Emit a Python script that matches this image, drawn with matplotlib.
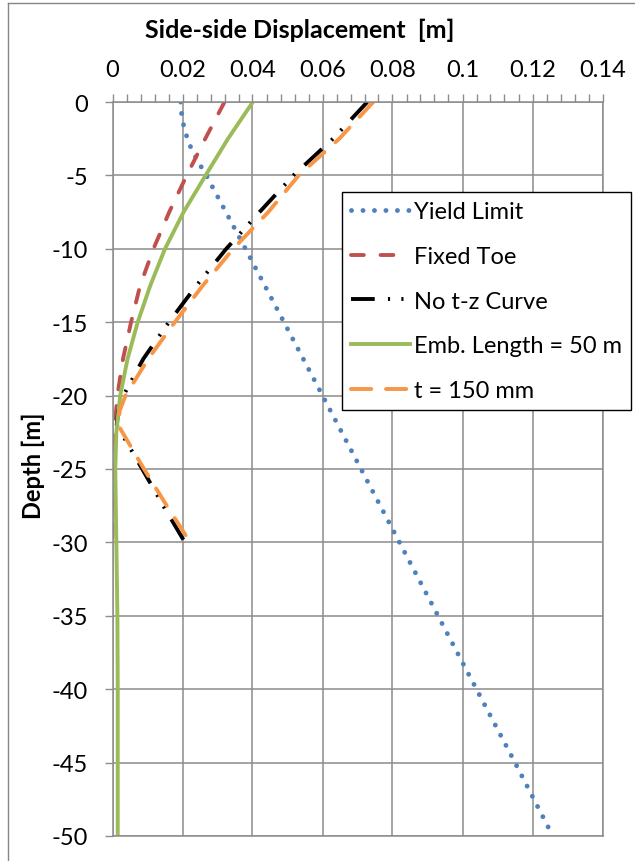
import numpy as np
import matplotlib
import matplotlib.pyplot as plt
from matplotlib.lines import Line2D

matplotlib.use('Agg')
plt.rcParams['font.family'] = ['Lato', 'DejaVu Sans']
plt.rcParams['axes.unicode_minus'] = False

# depth below seabed [m] and side-side displacement [m] for each case
depth_yield = [0, -1, -2, -3, -4, -5, -10, -15, -20, -25, -30, -35, -40, -45, -50]
yield_limit = [0.0195, 0.0198, 0.0207, 0.0222, 0.0243, 0.0268, 0.0380, 0.0490,
               0.0600, 0.0710, 0.0820, 0.0930, 0.1040, 0.1150, 0.1258]

depth_fixed = [0, -2.5, -5, -7.5, -10, -12.5, -15, -17.5, -20, -22.5, -25, -27.5, -30]
fixed_toe = [0.0320, 0.0265, 0.0212, 0.0162, 0.0117, 0.0079, 0.0053, 0.0030,
             0.0014, 0.0005, 0.0001, 0.0, 0.0]

depth_no_tz = [0, -2.5, -5, -7.5, -10, -12.5, -15, -17.5, -20, -21, -22, -25, -27.5, -30]
no_tz = [0.0728, 0.0630, 0.0517, 0.0420, 0.0325, 0.0240, 0.0161, 0.0088,
         0.0031, 0.0017, 0.0012, 0.0085, 0.0145, 0.0207]

depth_emb = [0, -2.5, -5, -7.5, -10, -12.5, -15, -17.5, -20, -22.5, -25, -30, -35, -40, -45, -50]
emb_50 = [0.0401, 0.0330, 0.0266, 0.0203, 0.0150, 0.0108, 0.0072, 0.0043,
          0.0022, 0.0011, 0.0008, 0.0011, 0.0014, 0.0015, 0.0015, 0.0015]

depth_t150 = [0, -2.5, -5, -7.5, -10, -12.5, -15, -17.5, -20, -21, -22, -25, -27.5, -30]
t_150 = [0.0745, 0.0648, 0.0532, 0.0445, 0.0345, 0.0258, 0.0178, 0.0102,
         0.0037, 0.0021, 0.0016, 0.0090, 0.0155, 0.0222]

x_ticks = [0, 0.02, 0.04, 0.06, 0.08, 0.10, 0.12, 0.14]
x_tick_labels = ['0', '0.02', '0.04', '0.06', '0.08', '0.1', '0.12', '0.14']
y_ticks = [0, -5, -10, -15, -20, -25, -30, -35, -40, -45, -50]
y_tick_labels = ['0', '-5', '-10', '-15', '-20', '-25', '-30', '-35', '-40', '-45', '-50']

W, H = 635, 862
fig = plt.figure(figsize=(W / 100, H / 100), dpi=100)
ax = fig.add_axes([112.5 / W, 1 - 837 / H, 490 / W, 734 / H])

grid_col = '#8c8c8c'
fs = 17
lw = 2.8

ax.plot(yield_limit, depth_yield, color='#4f81bd', lw=3.5,
        linestyle=(0, (0.01, 2.35)), dash_capstyle='round', label='Yield Limit')
ax.plot(fixed_toe, depth_fixed, color='#c0504d', lw=lw,
        linestyle=(0, (3.3, 4.3)), dash_capstyle='round', label='Fixed Toe')
ax.plot(no_tz, depth_no_tz, color='black', lw=lw,
        linestyle=(0, (6.1, 3.4, 0.55, 2.9, 0.55, 3.3)), dash_capstyle='butt',
        label='No t-z Curve')
ax.plot(emb_50, depth_emb, color='#9bbb59', lw=lw, label='Emb. Length = 50 m')
ax.plot(t_150, depth_t150, color='#f79646', lw=lw,
        linestyle=(0, (5.2, 3.8)), dash_capstyle='round', label='t = 150 mm')

ax.set_xlim(0, 0.14)
ax.set_ylim(-50, 0)
ax.xaxis.tick_top()
ax.set_xticks(x_ticks)
ax.set_xticklabels(x_tick_labels)
ax.set_xticks(np.arange(0, 0.1401, 0.004), minor=True)
ax.set_yticks(y_ticks)
ax.set_yticklabels(y_tick_labels)

ax.tick_params(axis='x', which='both', direction='out', length=5.8, width=1.0,
               color=grid_col, labelsize=fs, pad=10, top=True, bottom=False)
ax.tick_params(axis='y', which='major', direction='out', length=5.8, width=1.0,
               color=grid_col, labelsize=fs, pad=12, right=False)
ax.grid(True, which='major', color=grid_col, lw=1.1)
for s in ax.spines.values():
    s.set_color(grid_col)
    s.set_linewidth(1.1)
ax.set_axisbelow(True)

fig.text(300 / W, 1 - 38 / H, 'Side-side Displacement  [m]', fontsize=18,
         fontweight='bold', ha='center', va='baseline')
fig.text(33 / W, 1 - 466 / H, 'Depth [m]', fontsize=fs, fontweight='bold',
         rotation=90, ha='center', va='center')

leg = ax.legend(loc='upper left', bbox_to_anchor=(342 / W, 1 - 193 / H),
                bbox_transform=fig.transFigure, fontsize=fs, frameon=True,
                fancybox=False, borderpad=0.4, handlelength=2.5,
                handletextpad=0.15, labelspacing=1.0, borderaxespad=0)
leg.get_frame().set_edgecolor('black')
leg.get_frame().set_linewidth(1.0)
leg.get_frame().set_alpha(1)

# chart area border, left and top edges
fig.add_artist(Line2D([8 / W, 8 / W], [0, 1 - 4 / H], color='#868686', lw=1.0,
                      transform=fig.transFigure))
fig.add_artist(Line2D([8 / W, 1], [1 - 4 / H, 1 - 4 / H], color='#868686', lw=1.0,
                      transform=fig.transFigure))

fig.savefig('out.png', dpi=100)
